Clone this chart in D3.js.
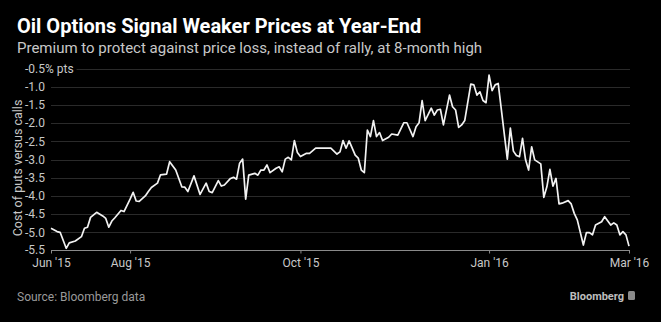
<!DOCTYPE html>
<html>
<head>
<meta charset="utf-8">
<script src="https://cdn.jsdelivr.net/npm/d3@7"></script>
<style>
body { margin: 0; background: #000; }
text { font-family: Roboto, "Open Sans", sans-serif; }
</style>
</head>
<body>
<script>
let width = 661
let height = 322

// trading session (from first obs) and cost of puts vs calls, % pts
let sessions = [0,2,3,5,6,8,10,11,12,13,15,17,18,19,20,21,23,24,26,27,28,29,31,32,33,35,36,38,39,41,
43,44,45,47,49,51,52,53,55,56,57,59,60,61,62,63,64,65,67,68,69,70,71,72,74,75,76,77,78,79,
80,81,82,84,85,87,89,91,92,94,95,96,97,98,100,101,102,103,104,105,106,107,108,109,111,112,114,116,117,119,
120,121,122,123,125,126,127,128,129,131,132,133,134,135,136,138,139,140,141,142,143,144,145,146,147,150,151,152,153,154,
155,156,157,158,159,161,162,163,164,165,166,167,168,170,171,172,173,175,176,177,178,179,181,182,184,185,186,187,188,189,190]

let premium = [-4.89,-4.98,-5.00,-5.44,-5.29,-5.24,-5.12,-4.89,-4.86,-4.59,-4.45,-4.55,-4.62,-4.86,-4.69,-4.60,-4.40,-4.43,-4.09,-3.90,
-4.14,-4.15,-4.00,-3.88,-3.77,-3.65,-3.42,-3.40,-3.06,-3.29,-3.75,-3.76,-3.88,-3.45,-3.96,-3.65,-3.88,-3.91,-3.58,-3.73,
-3.70,-3.52,-3.49,-3.54,-3.10,-2.99,-4.09,-3.43,-3.38,-3.43,-3.29,-3.29,-3.15,-3.36,-3.24,-3.20,-3.34,-2.99,-2.94,-3.01,
-2.48,-2.81,-2.92,-2.83,-2.83,-2.69,-2.69,-2.69,-2.69,-2.85,-2.79,-2.48,-2.69,-2.49,-2.88,-2.96,-3.29,-3.36,-2.19,-2.37,
-1.93,-2.37,-2.26,-2.48,-2.39,-2.30,-2.33,-1.99,-1.99,-2.37,-2.10,-1.99,-1.38,-1.93,-1.59,-1.78,-1.64,-1.62,-2.05,-1.23,
-1.55,-1.64,-2.12,-2.05,-1.93,-0.93,-0.95,-1.23,-1.14,-1.38,-1.44,-0.68,-1.11,-0.95,-0.91,-2.99,-2.14,-2.77,-2.89,-2.92,
-2.42,-3.01,-3.29,-2.65,-3.01,-3.12,-4.04,-3.75,-3.27,-3.73,-3.52,-4.22,-4.20,-4.13,-4.22,-4.48,-4.66,-5.35,-5.01,-5.01,
-5.07,-4.80,-4.71,-4.57,-4.80,-4.74,-4.80,-5.07,-4.98,-5.07,-5.38]

let tickSessions = [0, 26, 82, 144, 190]
let tickLabels = ["Jun '15", "Aug '15", "Oct '15", "Jan '16", "Mar '16"]
let yTicks = [-0.5, -1.0, -1.5, -2.0, -2.5, -3.0, -3.5, -4.0, -4.5, -5.0, -5.5]

let svg = d3.select("body")
    .append("svg")
    .attr("width", width)
    .attr("height", height)
    .style("background", "#000")

let x = d3.scaleLinear()
    .domain([0, 190])
    .range([51, 629])

let y = d3.scaleLinear()
    .domain([-5.5, -0.5])
    .range([250.5, 68.5])

// titles
svg.append("text")
    .attr("x", 17)
    .attr("y", 33)
    .attr("fill", "#fff")
    .attr("font-size", 20)
    .attr("font-weight", 700)
    .text("Oil Options Signal Weaker Prices at Year-End")

svg.append("text")
    .attr("x", 17)
    .attr("y", 53)
    .attr("fill", "#c8c8c8")
    .attr("font-size", 15)
    .text("Premium to protect against price loss, instead of rally, at 8-month high")

// y labels
let ylab = svg.append("g")
ylab.selectAll("text")
    .data(yTicks)
    .enter()
    .append("text")
    .attr("x", 25)
    .attr("y", d => y(d))
    .attr("dy", d => d == -5.5 ? "0.25em" : "0.35em")
    .attr("fill", "#c8c8c8")
    .attr("font-size", 12)
    .text(d => d == -0.5 ? "-0.5% pts" : d.toFixed(1))

let topLabelEnd = ylab.select("text").node().getBBox()
topLabelEnd = topLabelEnd.x + topLabelEnd.width + 3

// grid
svg.append("g")
    .selectAll("line")
    .data(yTicks.slice(0, -1))
    .enter()
    .append("line")
    .attr("x1", d => d == -0.5 ? topLabelEnd : 51)
    .attr("x2", 630)
    .attr("y1", d => Math.round(y(d)) + 0.5)
    .attr("y2", d => Math.round(y(d)) + 0.5)
    .attr("stroke", "#2a2a2a")
    .attr("stroke-width", 1)

// x axis
let xAxis = svg.append("g")
    .attr("transform", "translate(0,250.5)")
    .call(d3.axisBottom(x)
        .tickValues(tickSessions)
        .tickFormat((d, i) => tickLabels[i])
        .tickSize(3)
        .tickPadding(5))
xAxis.select(".domain").attr("stroke", "#8a8a8a").attr("d", "M51,0H630")
xAxis.selectAll(".tick line").attr("stroke", "#8a8a8a")
xAxis.selectAll(".tick text")
    .attr("fill", "#c8c8c8")
    .attr("font-size", 12)
    .attr("font-family", "Roboto, sans-serif")

// y axis title
svg.append("text")
    .attr("transform", "translate(22,168) rotate(-90)")
    .attr("text-anchor", "middle")
    .attr("fill", "#c8c8c8")
    .attr("font-size", 12.5)
    .text("Cost of puts versus calls")

// line
let line = d3.line()
    .x((d, i) => x(sessions[i]))
    .y(d => y(d))

svg.append("path")
    .datum(premium)
    .attr("fill", "none")
    .attr("stroke", "#f2f2f2")
    .attr("stroke-width", 1.7)
    .attr("stroke-linejoin", "round")
    .attr("d", line)

// footer
svg.append("text")
    .attr("x", 17)
    .attr("y", 301)
    .attr("fill", "#9a9a9a")
    .attr("font-size", 12)
    .text("Source: Bloomberg data")

svg.append("text")
    .attr("x", 624)
    .attr("y", 300)
    .attr("text-anchor", "end")
    .attr("fill", "#bdbdbd")
    .attr("font-size", 11)
    .attr("font-weight", 700)
    .text("Bloomberg")

svg.append("rect")
    .attr("x", 628)
    .attr("y", 291)
    .attr("width", 7)
    .attr("height", 9)
    .attr("rx", 1.5)
    .attr("fill", "#8a8a8a")
</script>
</body>
</html>
